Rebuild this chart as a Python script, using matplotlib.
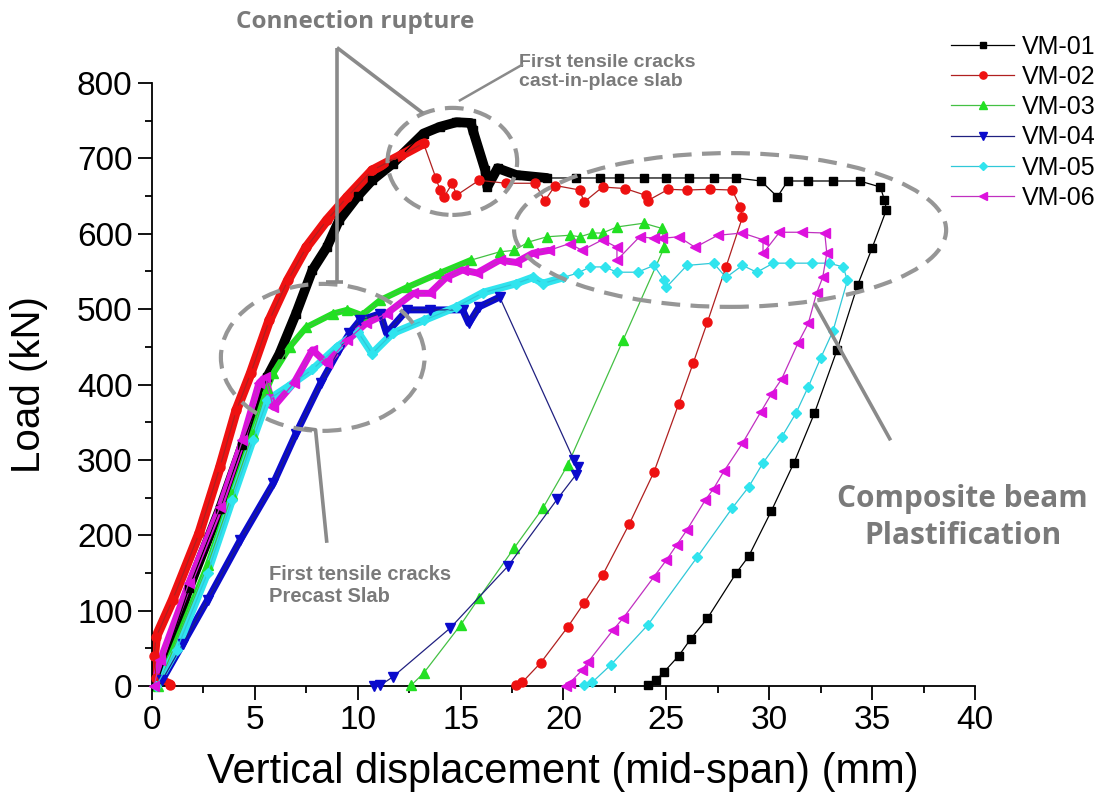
import matplotlib
matplotlib.use("Agg")
import matplotlib.pyplot as plt
from matplotlib.patches import Ellipse
from matplotlib.ticker import MultipleLocator

plt.rcParams['font.family'] = ['Liberation Sans', 'DejaVu Sans']

# displacement (mm) / load (kN)
vm01_x = [0.2, 1.8, 3.3, 4.4, 5.6, 6.2, 7.0, 7.8, 8.5, 9.1, 10.0, 10.7, 11.7, 13.2, 14.0, 14.8, 15.5, 15.6,
          16.2, 16.3, 16.8, 17.7, 19.2, 20.6, 21.8, 22.7, 23.9, 25.0, 26.1, 27.3, 28.4, 29.6, 30.4, 30.9,
          31.9, 33.1, 34.4, 35.4, 35.6, 35.7, 35.0, 34.3, 33.3, 32.2, 31.2, 30.1, 29.0, 28.4, 27.0, 26.2,
          25.6, 24.9, 24.5, 24.1]
vm01_y = [0, 130, 235, 320, 410, 441, 494, 552, 582, 618, 650, 671, 693, 733, 742, 748, 747, 737,
          684, 662, 687, 678, 674, 674, 674, 674, 674, 674, 674, 674, 674, 670, 649, 670,
          670, 670, 670, 662, 645, 632, 581, 532, 446, 362, 296, 232, 172, 150, 90, 63,
          40, 19, 8, 1]

vm02_x = [0.9, 0.2, 0.1, 0.2, 1.0, 2.3, 3.3, 4.1, 4.8, 5.7, 6.6, 7.5, 8.5, 9.5, 10.7, 12.1, 13.2, 13.8,
          14.0, 14.2, 14.6, 14.8, 15.9, 17.2, 18.6, 19.1, 19.6, 20.8, 21.0, 21.9, 23.0, 24.0, 24.1, 25.1,
          26.0, 27.1, 28.2, 28.6, 28.7, 27.9, 27.0, 26.3, 25.6, 24.4, 23.2, 21.9, 21.0, 20.2, 18.9, 18.0,
          17.7]
vm02_y = [2, 10, 40, 65, 114, 203, 290, 366, 415, 485, 538, 582, 618, 649, 684, 704, 720, 674,
          658, 649, 667, 651, 671, 667, 667, 644, 664, 658, 642, 662, 660, 651, 644, 659,
          658, 659, 658, 635, 622, 556, 483, 428, 374, 284, 215, 147, 110, 78, 31, 5,
          1]

vm03_x = [0.3, 2.7, 3.9, 4.9, 5.6, 5.9, 6.7, 7.5, 8.8, 9.5, 10.2, 11.1, 12.4, 14.0, 15.5, 16.9, 17.6,
          18.3, 19.2, 20.3, 20.8, 21.4, 21.9, 22.6, 23.9, 24.8, 24.9, 22.9, 20.2, 19.0, 17.6, 15.9,
          15.0, 13.2, 12.6]
vm03_y = [0, 160, 255, 335, 395, 415, 450, 476, 494, 499, 492, 512, 529, 548, 565, 576, 578,
          589, 596, 598, 596, 601, 601, 609, 614, 607, 582, 459, 293, 236, 183, 117,
          81, 17, 1]

vm04_x = [0.5, 1.5, 2.7, 4.3, 5.9, 7.0, 8.2, 9.1, 9.6, 10.1, 11.1, 11.4, 12.4, 13.5, 15.1, 15.4, 15.9,
          16.9, 20.5, 20.7, 20.6, 19.7, 17.3, 14.5, 11.7, 11.1, 10.8]
vm04_y = [8, 56, 114, 194, 269, 335, 402, 446, 468, 485, 494, 468, 499, 499, 499, 481, 503,
          516, 300, 290, 280, 248, 159, 77, 12, 1, 0]

vm05_x = [0.2, 1.2, 2.7, 3.9, 4.9, 5.6, 6.6, 7.8, 9.0, 10.0, 10.7, 11.7, 13.2, 14.8, 16.1, 17.7, 18.5,
          19.0, 20.0, 20.7, 21.3, 22.0, 22.6, 23.6, 24.4, 24.9, 25.0, 26.0, 27.3, 27.9, 28.7, 29.4,
          30.2, 31.0, 32.1, 32.9, 33.6, 33.8, 33.1, 32.5, 31.9, 31.3, 30.6, 29.7, 29.0, 28.2, 26.5,
          24.1, 22.3, 21.4, 21.0]
vm05_y = [0, 48, 150, 247, 326, 379, 397, 420, 450, 470, 441, 468, 485, 503, 522, 534, 542,
          534, 542, 548, 556, 556, 549, 549, 558, 538, 529, 558, 561, 542, 558, 549,
          561, 561, 561, 561, 556, 538, 471, 435, 397, 362, 330, 296, 264, 236, 171,
          81, 28, 5, 1]

vm06_x = [0.1, 0.4, 1.8, 3.3, 4.4, 5.2, 5.5, 5.9, 6.9, 7.8, 8.5, 9.5, 10.4, 11.4, 12.7, 13.5, 14.3,
          15.1, 15.8, 16.9, 17.7, 18.5, 19.3, 20.3, 20.9, 21.9, 22.6, 22.6, 23.7, 24.4, 24.8, 25.6,
          26.4, 27.5, 28.7, 29.7, 29.7, 30.5, 31.6, 32.7, 32.8, 32.6, 32.3, 31.9, 31.4, 30.6, 30.1,
          29.6, 28.7, 27.8, 27.3, 26.9, 26.0, 25.5, 25.0, 24.4, 22.9, 22.4, 21.2, 20.9, 20.3, 20.1]
vm06_y = [0, 34, 137, 237, 326, 402, 410, 370, 402, 446, 428, 459, 481, 494, 521, 521, 542,
          552, 548, 565, 562, 574, 578, 587, 578, 592, 582, 565, 596, 594, 594, 596,
          582, 598, 601, 592, 574, 602, 602, 601, 574, 542, 521, 481, 455, 407, 387,
          364, 322, 285, 262, 247, 207, 187, 167, 145, 90, 74, 32, 21, 4, 0]

labels = ['VM-01', 'VM-02', 'VM-03', 'VM-04', 'VM-05', 'VM-06']

# style per series: marker colour, line colour, marker, size, densely sampled leading points, band width
styles = [
    ('#000000', '#000000', 's', 6, 23, 7),
    ('#ee1111', '#b02020', 'o', 6.5, 17, 7),
    ('#22e022', '#44c044', '^', 6.5, 15, 4.5),
    ('#0a0acc', '#202080', 'v', 6.5, 18, 5),
    ('#30e4ee', '#30c8d8', 'D', 5, 19, 5.5),
    ('#dd11dd', '#c030c0', '<', 6.5, 23, 5),
]
series = [(vm01_x, vm01_y), (vm02_x, vm02_y), (vm03_x, vm03_y),
          (vm04_x, vm04_y), (vm05_x, vm05_y), (vm06_x, vm06_y)]

fig = plt.figure(figsize=(11.02, 8.09), dpi=100)
ax = fig.add_axes([0.1379, 0.152, 0.7468, 0.7454])

for (xs, ys), lab, (mc, lc, mk, ms, nd, bw) in zip(series, labels, styles):
    # the loading branch is so densely sampled that markers form a solid band
    ax.plot(xs[:nd], ys[:nd], color=mc, lw=bw, solid_capstyle='round',
            solid_joinstyle='round', zorder=2)
    ax.plot(xs, ys, color=lc, lw=0.9, marker=mk, ms=ms, mfc=mc, mec=mc,
            label=lab, zorder=3, clip_on=False)

ax.set_xlim(0, 40)
ax.set_ylim(0, 800)
ax.xaxis.set_major_locator(MultipleLocator(5))
ax.xaxis.set_minor_locator(MultipleLocator(2.5))
ax.yaxis.set_major_locator(MultipleLocator(100))
ax.yaxis.set_minor_locator(MultipleLocator(50))
for s in ['top', 'right']:
    ax.spines[s].set_visible(False)
for s in ['left', 'bottom']:
    ax.spines[s].set_linewidth(1.3)
ax.tick_params(which='major', direction='out', length=10, width=1.3, labelsize=24, pad=4)
ax.tick_params(which='minor', direction='out', length=5, width=1.3)

ax.set_xlabel('Vertical displacement (mid-span) (mm)', fontsize=30)
ax.set_ylabel('Load (kN)', fontsize=29)
ax.xaxis.set_label_coords(0.499, -0.11)
ax.yaxis.set_label_coords(-0.126, 0.5)

# annotations
gray = '#8a8a8a'
tgray = '#7a7a7a'
dash = dict(fill=False, ec='#969696', lw=3, ls=(0, (4.5, 2.5)), clip_on=False, zorder=5)
ax.add_patch(Ellipse((14.6, 696), 6.3, 142, **dash))
ax.add_patch(Ellipse((8.3, 436), 9.9, 195, **dash))
ax.add_patch(Ellipse((28.1, 605), 21.0, 204, **dash))

line = dict(color=gray, lw=2.6, clip_on=False, zorder=5, solid_capstyle='butt')
ax.plot([8.99, 8.99], [847, 536], **line)
ax.plot([8.45, 9.3], [536, 536], **line)
ax.plot([8.99, 13.17], [847, 760], **line)
ax.plot([17.98, 14.97], [824, 777], color=gray, lw=1.8, clip_on=False, zorder=5)
ax.plot([7.4, 7.95, 8.5], [342, 340, 190], **line)
ax.plot([32.2, 35.9], [508, 326], **line)

ax.text(9.86, 881, 'Connection rupture', fontsize=17.5, fontweight='bold', color=tgray,
        ha='center', va='center', family=['Open Sans', 'DejaVu Sans'])
ax.text(17.85, 815, 'First tensile cracks\ncast-in-place slab', fontsize=14, fontweight='bold',
        color=tgray, ha='left', va='center', linespacing=1.15)
ax.text(5.7, 134, 'First tensile cracks\nPrecast Slab', fontsize=14.5, fontweight='bold',
        color=tgray, ha='left', va='center', linespacing=1.2)
ax.text(39.4, 223, 'Composite beam\nPlastification', fontsize=21.5, fontweight='bold', color=tgray,
        ha='center', va='center', linespacing=1.3, family=['Open Sans', 'DejaVu Sans'])

ax.legend(loc='upper left', bbox_to_anchor=(0.843, 0.985), bbox_transform=fig.transFigure,
          frameon=False, fontsize=18, handlelength=2.5, handletextpad=0.3,
          labelspacing=0.25, markerscale=0.8)

fig.savefig('out.png', dpi=100)
